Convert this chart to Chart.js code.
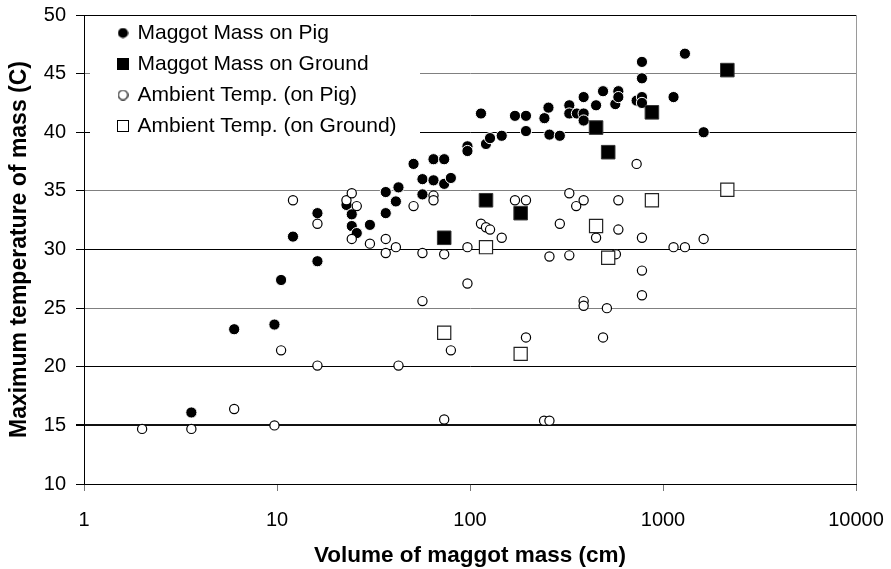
<!DOCTYPE html>
<html>
<head>
<meta charset="utf-8">
<script src="https://cdn.jsdelivr.net/npm/chart.js@4.4.1/dist/chart.umd.min.js"></script>
<style>
  html, body { margin: 0; padding: 0; background: #fff; }
  #wrap { width: 891px; height: 569px; }
</style>
</head>
<body>
<div id="wrap"><canvas id="chart" width="891" height="569"></canvas></div>
<script>
// Series names
const seriesNames = [
  'Maggot Mass on Pig',
  'Maggot Mass on Ground',
  'Ambient Temp. (on Pig)',
  'Ambient Temp. (on Ground)'
];

// Maggot mass on pig: volume (cm) and maximum temperature (C)
const pigMassVolume = [3.6, 6.0, 9.7, 10.5, 12.1, 16.2, 16.2, 22.9, 24.4, 24.4, 25.9, 30.3, 36.6, 36.6, 41.3, 42.6,
  51, 56.7, 56.7, 64.7, 64.7, 73.5, 73.5, 79.6, 97, 97, 114, 121, 127, 146, 171, 195, 195, 243, 255, 258, 292,
  327, 327, 358, 388, 388, 388, 450, 489, 566, 587, 587, 730, 778, 778, 778, 778, 1134, 1299, 1624];
const pigMassTemp = [16.1, 23.2, 23.6, 27.4, 31.1, 33.1, 29.0, 33.8, 33.0, 32.0, 31.4, 32.1, 34.9, 33.1, 34.1, 35.3,
  37.3, 36.0, 34.7, 37.7, 35.9, 37.7, 35.6, 36.1, 38.8, 38.4, 41.6, 39.0, 39.5, 39.7, 41.4, 41.4, 40.1, 41.2, 42.1, 39.8, 39.7,
  42.3, 41.6, 41.6, 43.0, 41.6, 41.0, 42.3, 43.5, 42.4, 43.5, 43.0, 42.7, 46.0, 44.6, 43.0, 42.5, 43.0, 46.7, 40.0];

// Maggot mass on ground
const groundMassVolume = [73.5, 121, 183, 450, 520, 876, 2154];
const groundMassTemp = [31.0, 34.2, 33.1, 40.4, 38.3, 41.7, 45.3];

// Ambient temperature beside masses on pig
const pigAmbientVolume = [2.0, 3.6, 6.0, 9.7, 10.5, 12.1, 16.2, 16.2, 22.9, 24.4, 25.9, 24.4, 30.3, 36.6, 36.6, 41.3,
  42.6, 51, 56.7, 56.7, 64.7, 64.7, 73.5, 73.5, 79.6, 97, 97, 114, 121, 127, 146, 171, 195, 195, 242, 258, 258, 292,
  327, 327, 355, 388, 388, 388, 450, 489, 512, 570, 587, 587, 730, 778, 778, 778, 1134, 1299, 1624];
const pigAmbientTemp = [14.7, 14.7, 16.4, 15.0, 21.4, 34.2, 32.2, 20.1, 34.2, 34.8, 33.7, 30.9, 30.5, 30.9, 29.7, 30.2,
  20.1, 33.7, 29.7, 25.6, 34.6, 34.2, 29.6, 15.5, 21.4, 30.2, 27.1, 32.2, 31.9, 31.7, 31.0, 34.2, 34.2, 22.5, 15.4, 15.4, 29.4, 32.2,
  34.8, 29.5, 33.7, 34.2, 25.6, 25.2, 31.0, 22.5, 25.0, 29.6, 34.2, 31.7, 37.3, 31.0, 28.2, 26.1, 30.2, 30.2, 30.9];

// Ambient temperature beside masses on ground
const groundAmbientVolume = [73.5, 121, 183, 450, 520, 876, 2154];
const groundAmbientTemp = [22.9, 30.2, 21.1, 32.0, 29.3, 34.2, 35.1];

// Axis ticks
const xTickValues = [1, 10, 100, 1000, 10000];
const yTickValues = [10, 15, 20, 25, 30, 35, 40, 45, 50];

const FONT = "'Liberation Sans', Arial, Helvetica, sans-serif";

const toPoints = (xs, ys) => xs.map((x, i) => ({ x: x, y: ys[i] }));

// Scales keep a fixed plot rectangle: no extra room reserved for edge labels
const noEdgePadding = (s) => {
  s.paddingLeft = 0; s.paddingRight = 0; s.paddingTop = 0; s.paddingBottom = 0;
};

// Legend symbols, drawn once on small canvases
function makeIcon(kind, size) {
  const c = document.createElement('canvas');
  c.width = size; c.height = size;
  const g = c.getContext('2d');
  const h = size / 2;
  if (kind === 'filledCircle') {
    g.fillStyle = '#000';
    g.beginPath(); g.arc(h, h, h - 0.4, 0, Math.PI * 2); g.fill();
  } else if (kind === 'filledSquare') {
    g.fillStyle = '#000';
    g.fillRect(0, 0, size, size);
  } else if (kind === 'openCircle') {
    g.fillStyle = '#fff'; g.strokeStyle = '#000'; g.lineWidth = 1.1;
    g.beginPath(); g.arc(h, h, h - 0.8, 0, Math.PI * 2); g.fill(); g.stroke();
  } else {
    g.fillStyle = '#fff'; g.strokeStyle = '#000'; g.lineWidth = 1;
    g.fillRect(0, 0, size, size); g.strokeRect(0.5, 0.5, size - 1, size - 1);
  }
  return c;
}
const legendIcons = [
  makeIcon('filledCircle', 11),
  makeIcon('filledSquare', 12),
  makeIcon('openCircle', 11),
  makeIcon('openSquare', 12)
];

// Legend placed in the upper-left of the plot on a white panel
const LEGEND_PANEL = { left: 90, top: 16, right: 420, bottom: 158 };
const legendPanel = {
  id: 'legendPanel',
  beforeDraw(chart) {
    const lg = chart.legend;
    lg.left = 109; lg.top = 12.5;
    lg.right = LEGEND_PANEL.right; lg.bottom = lg.top + 200;
  },
  beforeDatasetsDraw(chart) {
    const ctx = chart.ctx;
    ctx.save();
    ctx.fillStyle = '#fff';
    ctx.fillRect(LEGEND_PANEL.left, LEGEND_PANEL.top,
      LEGEND_PANEL.right - LEGEND_PANEL.left, LEGEND_PANEL.bottom - LEGEND_PANEL.top);
    ctx.restore();
    chart.legend.draw();
  }
};

new Chart(document.getElementById('chart'), {
  type: 'scatter',
  data: {
    datasets: [
      {
        label: seriesNames[0],
        data: toPoints(pigMassVolume, pigMassTemp),
        pointStyle: 'circle', pointRadius: 5.6,
        backgroundColor: '#000', borderColor: '#fff', borderWidth: 1,
        order: 3
      },
      {
        label: seriesNames[1],
        data: toPoints(groundMassVolume, groundMassTemp),
        pointStyle: 'rect', pointRadius: 9.6,
        backgroundColor: '#000', borderColor: '#333', borderWidth: 1,
        order: 2
      },
      {
        label: seriesNames[2],
        data: toPoints(pigAmbientVolume, pigAmbientTemp),
        pointStyle: 'circle', pointRadius: 4.6,
        backgroundColor: '#fff', borderColor: '#000', borderWidth: 1.2,
        order: 1
      },
      {
        label: seriesNames[3],
        data: toPoints(groundAmbientVolume, groundAmbientTemp),
        pointStyle: 'rect', pointRadius: 9.3,
        backgroundColor: '#fff', borderColor: '#222', borderWidth: 1.2,
        order: 0
      }
    ]
  },
  options: {
    responsive: false,
    devicePixelRatio: 1,
    animation: false,
    events: [],
    layout: { padding: { left: 0, top: 15, right: 35, bottom: 0 } },
    scales: {
      x: {
        type: 'logarithmic',
        min: 1, max: 10000,
        afterBuildTicks: (s) => { s.ticks = xTickValues.map(v => ({ value: v })); },
        afterFit: (s) => { s.height = 85; noEdgePadding(s); },
        ticks: {
          autoSkip: false, maxRotation: 0, minRotation: 0,
          color: '#000', padding: 17,
          font: { family: FONT, size: 20 },
          callback: (v) => String(v)
        },
        grid: {
          drawOnChartArea: true,
          color: (c) => (c.tick && c.tick.value === 10000) ? '#9a9a9a' : 'rgba(0,0,0,0)',
          tickColor: '#777',
          tickLength: 7,
          lineWidth: 1
        },
        border: { display: true, color: '#000', width: 1 },
        title: {
          display: true,
          text: 'Volume of maggot mass (cm)',
          color: '#000',
          font: { family: FONT, size: 22.5, weight: 'bold' },
          padding: { top: 0, bottom: 0 }
        }
      },
      y: {
        min: 10, max: 50,
        afterBuildTicks: (s) => { s.ticks = yTickValues.map(v => ({ value: v })); },
        afterFit: (s) => { s.width = 84; noEdgePadding(s); },
        ticks: {
          color: '#000', padding: 10,
          font: { family: FONT, size: 20 },
          callback: (v) => String(v)
        },
        grid: {
          color: (c) => {
            const v = c.tick ? c.tick.value : 0;
            if (v === 15) return '#111';
            return v % 10 === 0 ? '#000' : '#808080';
          },
          lineWidth: (c) => (c.tick && c.tick.value === 15) ? 2 : 1,
          tickColor: '#000',
          tickLength: 8
        },
        border: { display: true, color: '#000', width: 1 },
        title: {
          display: true,
          text: 'Maximum temperature of mass (C)',
          color: '#000',
          font: { family: FONT, size: 23, weight: 'bold' },
          padding: { top: 6, bottom: 0 }
        }
      }
    },
    plugins: {
      tooltip: { enabled: false },
      legend: {
        display: true,
        position: 'chartArea',
        align: 'start',
        labels: {
          usePointStyle: true,
          boxWidth: 8, boxHeight: 8,
          padding: 10,
          color: '#000',
          font: { family: FONT, size: 21 },
          sort: (a, b) => a.datasetIndex - b.datasetIndex,
          generateLabels: (chart) =>
            Chart.defaults.plugins.legend.labels.generateLabels(chart)
              .map(item => Object.assign({}, item, { pointStyle: legendIcons[item.datasetIndex] }))
        }
      }
    }
  },
  plugins: [legendPanel]
});
</script>
</body>
</html>
